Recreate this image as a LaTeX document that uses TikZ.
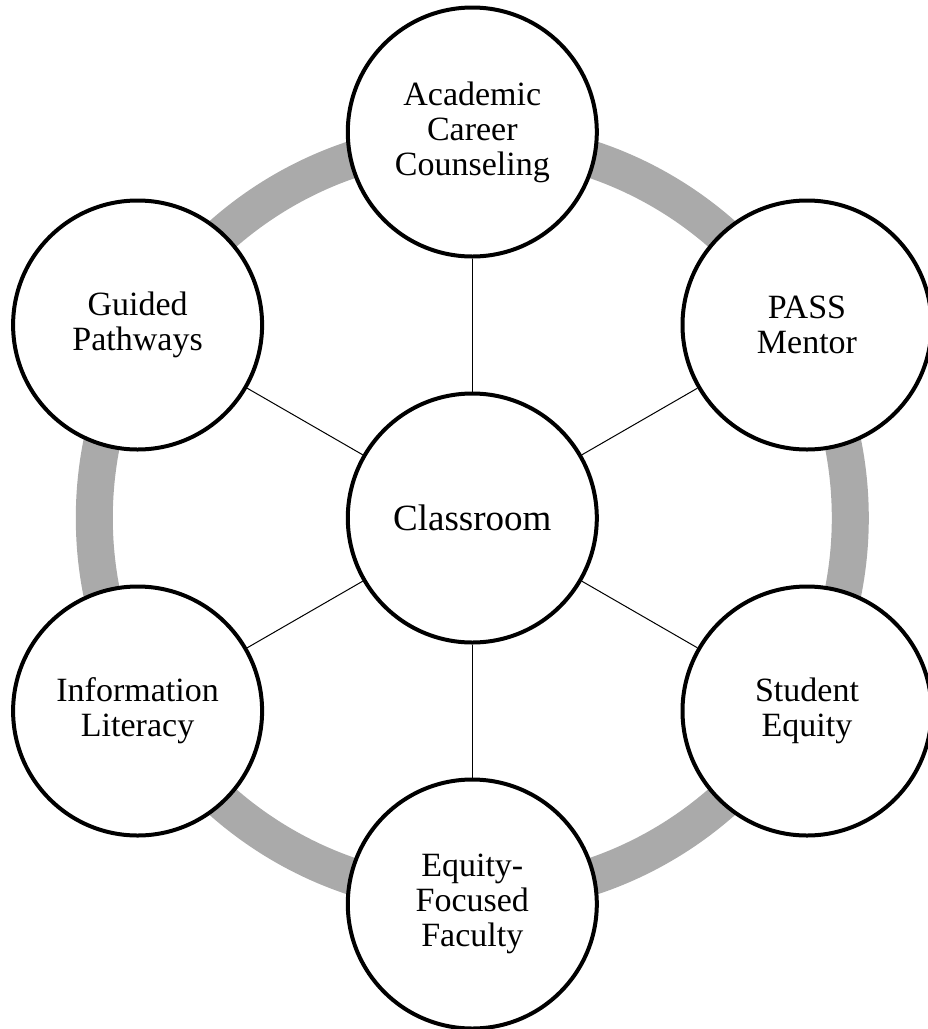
\documentclass[tikz,border=0pt]{standalone}
\usepackage{fontspec}
\setmainfont{Liberation Serif}
\definecolor{ringgray}{RGB}{170,170,170}
\begin{document}
\begin{tikzpicture}[x=1pt,y=-1pt,
  bubble/.style={circle,draw=black,line width=4pt,fill=white,minimum size=249pt,inner sep=0pt,align=center,font=\fontsize{34}{35}\selectfont},
  hub/.style={bubble,font=\fontsize{37}{38}\selectfont},
  link/.style={draw=black,line width=1pt}]
\useasboundingbox (0,0) rectangle (928,1029);
\coordinate (c) at (472.3,518);
\draw[ringgray,line width=37pt] (c) circle[radius=378pt];
\node[hub] (class) at (c) {Classroom};
\node[bubble] (acc) at (472.3,132) {Academic\\Career\\Counseling};
\node[bubble] (pass) at (807,325) {PASS\\Mentor};
\node[bubble] (se) at (807,711) {Student\\Equity};
\node[bubble] (eff) at (472.3,904) {Equity-\\Focused\\Faculty};
\node[bubble] (il) at (137.6,711) {Information\\Literacy};
\node[bubble] (gp) at (137.6,325) {Guided\\Pathways};
\foreach \n in {acc,pass,se,eff,il,gp} \draw[link] (class) -- (\n);
\end{tikzpicture}
\end{document}
